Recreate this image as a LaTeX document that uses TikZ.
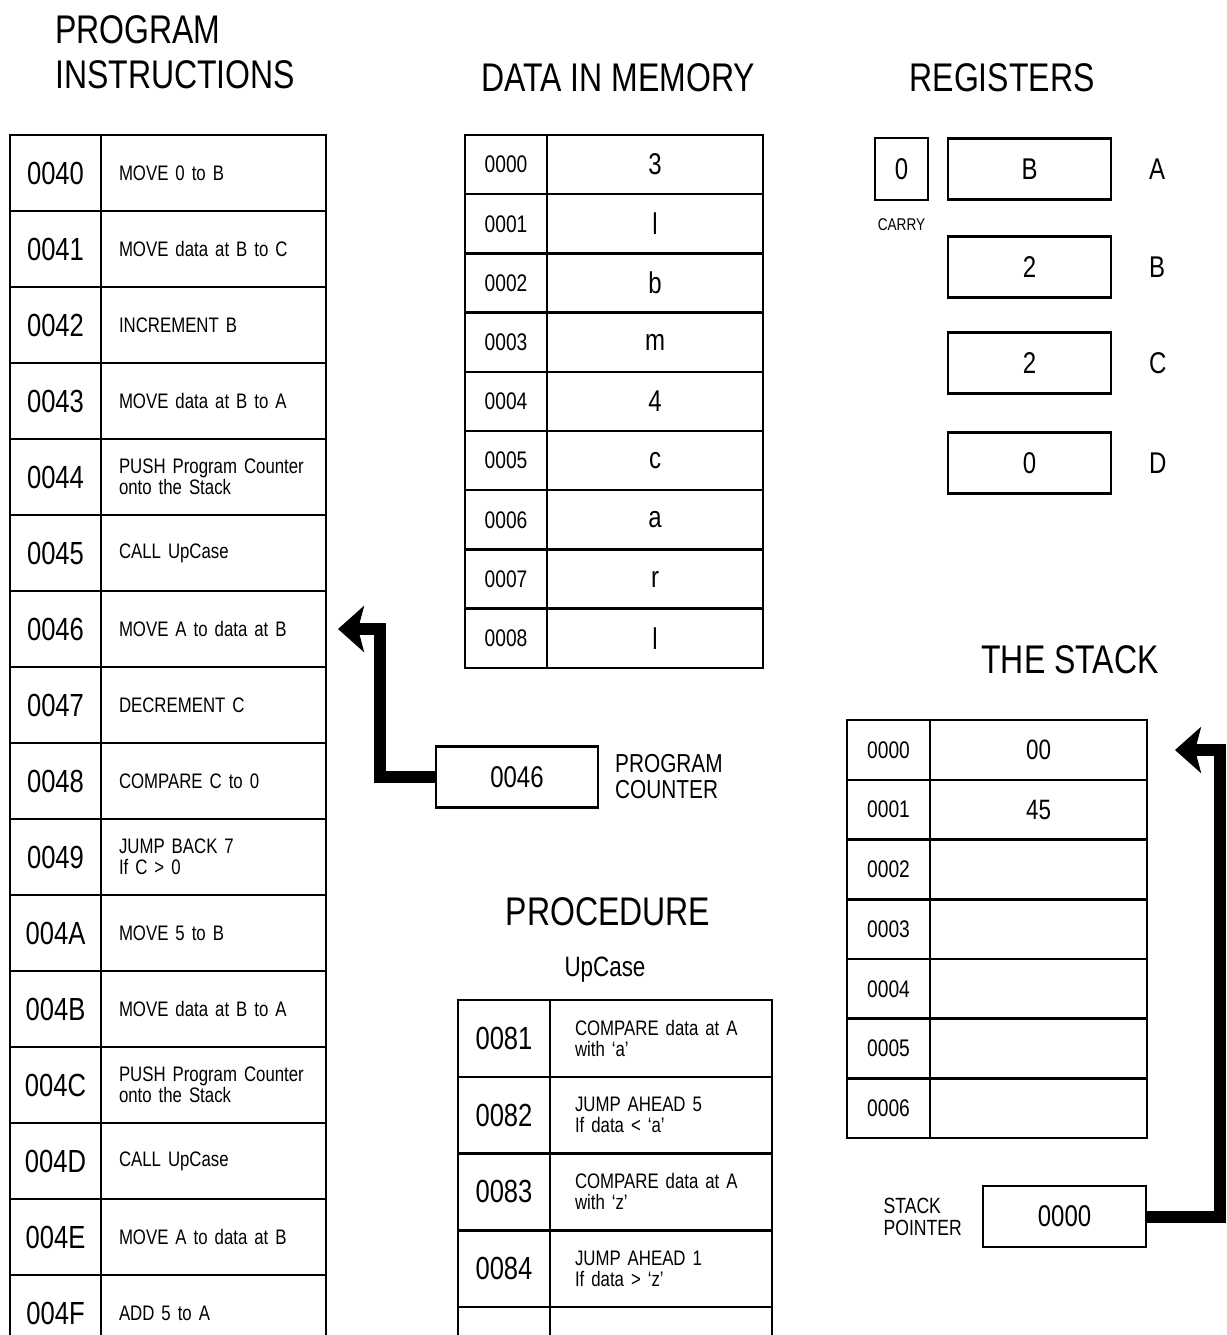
\documentclass[tikz,border=0pt]{standalone}
\usepackage{fontspec}
\setmainfont{Liberation Sans}[FakeStretch=0.8]
\usetikzlibrary{positioning,arrows.meta}
\newcommand{\fsz}[1]{\fontsize{#1pt}{#1pt}\selectfont}
\tikzset{
box/.style={rectangle,draw,line width=2.5pt,inner sep=0pt,outer sep=0pt},
padr/.style={box,minimum width=91pt,minimum height=76pt,font=\fsz{32}},
pins/.style={box,minimum width=225pt,minimum height=76pt,text width=189pt,inner xsep=18pt,align=left,font=\fsz{21}},
dadr/.style={box,minimum width=82pt,minimum height=59.2pt,font=\fsz{24}},
dval/.style={box,minimum width=216pt,minimum height=59.2pt,font=\fsz{30}},
reg/.style={box,minimum width=163pt,minimum height=61pt,font=\fsz{30}},
lbl/.style={inner sep=0pt},
title/.style={inner sep=0pt,font=\fontsize{40pt}{45pt}\selectfont},
bigarrow/.style={line width=12pt,-{Stealth[length=26pt,width=46pt,inset=6pt]}},
}

\begin{document}
\begin{tikzpicture}[x=1pt,y=-1pt]
	\useasboundingbox (0,0) rectangle (1226,1335);
	\fill[white] (0,0) rectangle (1226,1335);
	\clip (0,0) rectangle (1226,1335);

	% titles
	\node[title,align=left,anchor=west] (tprog) at (55,52) {PROGRAM\\INSTRUCTIONS};
	\node[title] (tdata) at (618,78) {DATA IN MEMORY};
	\node[title] (treg) at (1002,78) {REGISTERS};
	\node[title] (tstack) at (1070,660) {THE STACK};
	\node[title] (tproc) at (608,912) {PROCEDURE};
	\node[lbl,font=\fsz{28}] (tup) at (605,970) {UpCase};

	% program instructions
	\foreach \a/\t [count=\n from 0] in {0040/MOVE 0 to B, 0041/MOVE data at B to C,
		0042/INCREMENT B, 0043/MOVE data at B to A, 0044/{PUSH Program Counter\\onto the Stack},
		0045/CALL UpCase, 0046/MOVE A to data at B, 0047/DECREMENT C, 0048/COMPARE C to 0,
		0049/{JUMP BACK 7\\If C > 0}, 004A/MOVE 5 to B, 004B/MOVE data at B to A,
		004C/{PUSH Program Counter\\onto the Stack}, 004D/CALL UpCase,
		004E/MOVE A to data at B, 004F/ADD 5 to A} {
		\node[padr] (pa\n) at (55.5,{173+76*\n}) {\a};
		\node[pins,right=0pt of pa\n] (pi\n) {\t};
	}

	% data in memory
	\foreach \v [count=\n from 0] in {3,l,b,m,4,c,a,r,l} {
		\node[dadr] (da\n) at (506,{164.6+59.2*\n}) {000\n};
		\node[dval,right=0pt of da\n] (dv\n) {\v};
	}

	% registers
	\node[box,minimum width=53pt,minimum height=62pt,font=\fsz{30}] (carry) at (901.5,169) {0};
	\node[lbl,font=\fsz{17},below=18pt of carry] (lcarry) {CARRY};
	\foreach \r/\v/\y in {A/B/169,B/2/267,C/2/363,D/0/463} {
		\node[reg] (reg\r) at (1029.5,\y) {\v};
		\node[lbl,font=\fsz{30},right=38pt of reg\r] (l\r) {\r};
	}

	% program counter
	\node[reg,minimum width=162pt] (pc) at (517,777) {0046};
	\node[lbl,font=\fsz{26},align=left,right=17pt of pc] (lpc) {PROGRAM\\COUNTER};

	% the stack
	\foreach \v [count=\n from 0] in {00,45,{},{},{},{},{}} {
		\node[dadr,minimum width=83pt,minimum height=59.7pt] (sa\n) at (888.5,{750+59.7*\n}) {000\n};
		\node[dval,minimum width=217pt,minimum height=59.7pt,font=\fsz{28},right=0pt of sa\n] (sv\n) {\v};
	}
	\node[reg] (sp) at (1064.5,1216.5) {0000};
	\node[lbl,font=\fsz{22},align=left,left=21pt of sp] (lsp) {STACK\\POINTER};

	% procedure
	\foreach \a/\t [count=\n from 0] in {0081/{COMPARE data at A\\with `a'}, 0082/{JUMP AHEAD 5\\If data < `a'},
		0083/{COMPARE data at A\\with `z'}, 0084/{JUMP AHEAD 1\\If data > `z'}, {}/{}} {
		\node[padr,minimum width=92pt,minimum height=76.75pt] (ra\n) at (504,{1038.4+76.75*\n}) {\a};
		\node[pins,minimum width=222pt,minimum height=76.75pt,text width=172pt,inner xsep=25pt,right=0pt of ra\n] (ri\n) {\t};
	}

	% pointers
	\draw[bigarrow,shorten >=12pt] (pc.west) -- ++(-56,0) |- (pi6.east);
	\draw[bigarrow,shorten >=28pt] (sp.east) -- ++(74,0) |- (sv0.east);
\end{tikzpicture}
\end{document}
